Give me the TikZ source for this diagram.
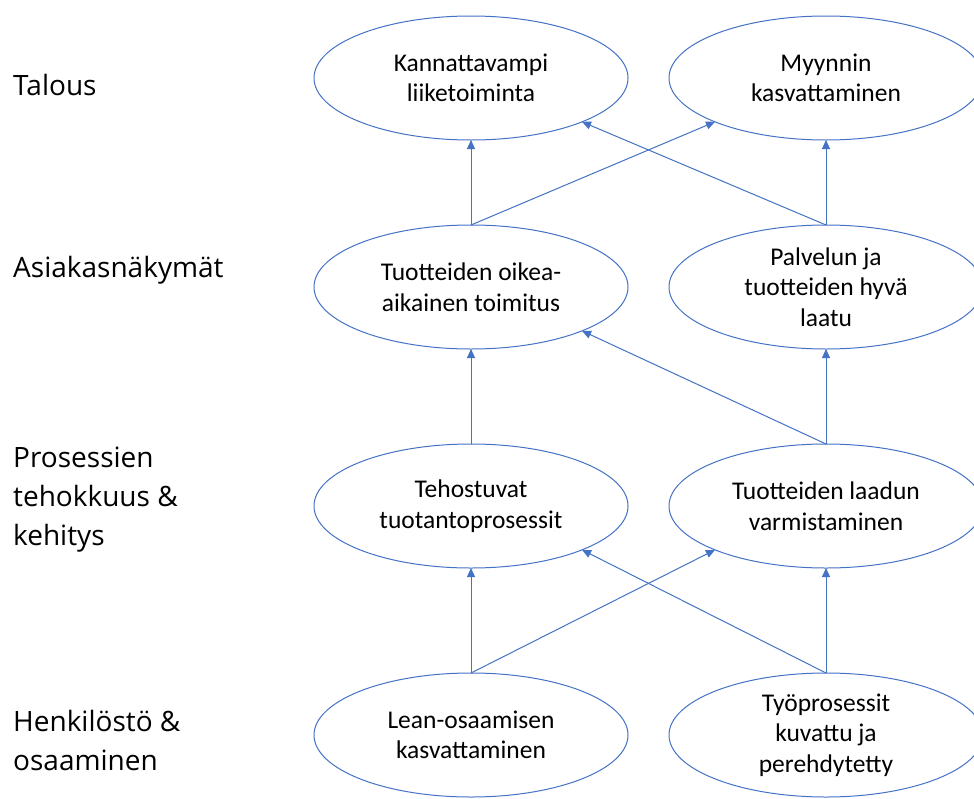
\documentclass[tikz,border=0pt]{standalone}
\usepackage{fontspec}
\setmainfont{Carlito}
\newfontfamily\labelfont{Open Sans}
\usetikzlibrary{shapes.geometric,arrows.meta}
\definecolor{lineblue}{HTML}{4472C4}
\tikzset{
  goal/.style={ellipse, draw=lineblue, line width=1pt, minimum width=314pt, minimum height=124pt,
    inner sep=0pt, outer sep=0pt, align=center, font=\fontsize{25.5}{30.5}\selectfont, text=black},
  link/.style={draw=lineblue, line width=1pt, -{Triangle[length=9pt,width=8pt]}},
  persp/.style={anchor=west, align=left, font=\labelfont\fontsize{28}{39}\selectfont, text=black, inner sep=0pt}
}
\begin{document}
\begin{tikzpicture}[x=1pt,y=-1pt]
\useasboundingbox (0,0) rectangle (974,798);
\clip (0,0) rectangle (974,798);
\fill[white] (0,0) rectangle (974,798);
% perspective labels
\node[persp] (lt) at (13,85) {Talous};
\node[persp] (la) at (13,270) {Asiakasnäkymät};
\node[persp] (lp) at (13,500) {Prosessien\\tehokkuus \&\\kehitys};
\node[persp] (lh) at (13,740) {Henkilöstö \&\\osaaminen};
% goals
\node[goal] (k) at (471,78) {Kannattavampi\\liiketoiminta};
\node[goal] (m) at (826,78) {Myynnin\\kasvattaminen};
\node[goal] (t) at (471,287) {Tuotteiden oikea-\\aikainen toimitus};
\node[goal] (p) at (826,287) {Palvelun ja\\tuotteiden hyvä\\laatu};
\node[goal] (te) at (471,506) {Tehostuvat\\tuotantoprosessit};
\node[goal] (tl) at (826,506) {Tuotteiden laadun\\varmistaminen};
\node[goal] (le) at (471,735) {Lean-osaamisen\\kasvattaminen};
\node[goal] (ty) at (826,735) {Työprosessit\\kuvattu ja\\perehdytetty};
% connectors
\draw[link] (t.north) -- (k.south);
\draw[link] (t.north) -- (m.south west);
\draw[link] (p.north) -- (m.south);
\draw[link] (p.north) -- (k.south east);
\draw[link] (te.north) -- (t.south);
\draw[link] (tl.north) -- (p.south);
\draw[link] (tl.north) -- (t.south east);
\draw[link] (le.north) -- (te.south);
\draw[link] (le.north) -- (tl.south west);
\draw[link] (ty.north) -- (tl.south);
\draw[link] (ty.north) -- (te.south east);
\end{tikzpicture}
\end{document}
